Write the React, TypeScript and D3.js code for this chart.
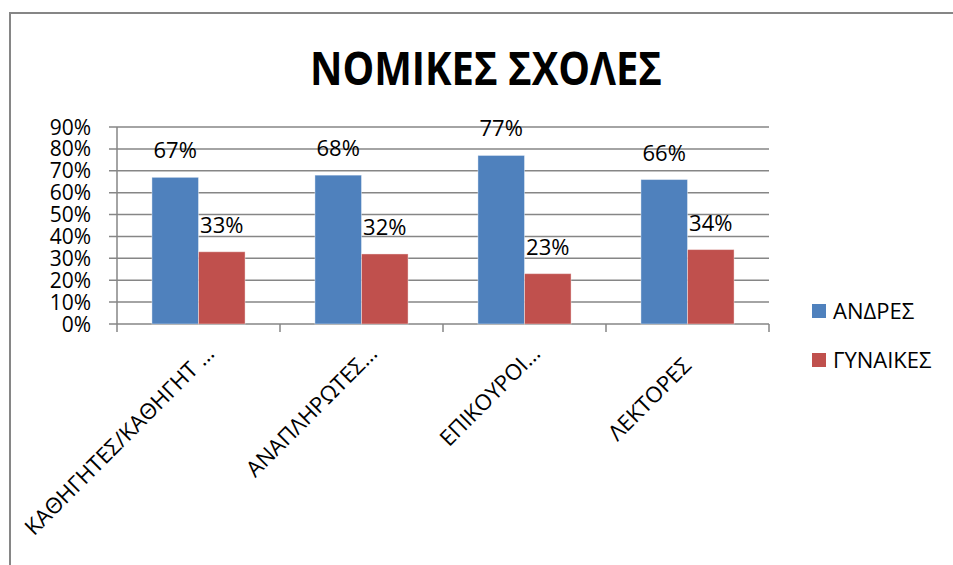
import * as d3 from 'd3'

const title = 'ΝΟΜΙΚΕΣ ΣΧΟΛΕΣ'
const categories = ['ΚΑΘΗΓΗΤΕΣ/ΚΑΘΗΓΗΤ …', 'ΑΝΑΠΛΗΡΩΤΕΣ…', 'ΕΠΙΚΟΥΡΟΙ…', 'ΛΕΚΤΟΡΕΣ']
const seriesNames = ['ΑΝΔΡΕΣ', 'ΓΥΝΑΙΚΕΣ']
const men = [0.67, 0.68, 0.77, 0.66]
const women = [0.33, 0.32, 0.23, 0.34]
const yTicks = [0, 0.1, 0.2, 0.3, 0.4, 0.5, 0.6, 0.7, 0.8, 0.9]

const colors = ['#4F81BD', '#C0504D']
const grid = '#868686'
const font = '"Open Sans", "Liberation Sans", sans-serif'

export default function App() {
  const width = 953
  const height = 565
  const plot = { left: 117, right: 769, top: 127, bottom: 324 }

  const x0 = d3.scaleBand<string>().domain(categories).range([plot.left, plot.right])
  const x1 = d3.scaleBand<string>().domain(seriesNames).range([0, x0.bandwidth()]).paddingOuter(0.75)
  const y = d3.scaleLinear().domain([0, 0.9]).range([plot.bottom, plot.top])
  const pct = d3.format('.0%')
  const values = [men, women]

  return (
    <svg width={width} height={height} style={{ position: 'absolute', left: 0, top: 0 }}>
      <rect x={0} y={0} width={width} height={height} fill="#fff" />
      <rect x={10} y={13} width={1000} height={600} fill="none" stroke={grid} strokeWidth={2} />

      <text x={486} y={85} textAnchor="middle" fontFamily={font} fontWeight="bold" fontSize={46}
        textLength={352} lengthAdjust="spacingAndGlyphs">{title}</text>

      {yTicks.map(t => (
        <g key={t}>
          <line x1={plot.left - 8} x2={plot.right} y1={y(t)} y2={y(t)} stroke={grid} strokeWidth={1.5} />
          <text x={91} y={y(t)} dy="0.36em" textAnchor="end" fontFamily={font} fontSize={21}>{pct(t)}</text>
        </g>
      ))}
      <line x1={plot.left} x2={plot.left} y1={plot.top} y2={plot.bottom + 8} stroke={grid} strokeWidth={1.5} />
      {categories.map((c, i) => (
        <line key={'t' + i} x1={x0(c)! + x0.bandwidth()} x2={x0(c)! + x0.bandwidth()}
          y1={plot.bottom} y2={plot.bottom + 8} stroke={grid} strokeWidth={1.5} />
      ))}

      {seriesNames.map((s, si) => (
        <g key={s}>
          {categories.map((c, i) => {
            const bx = x0(c)! + x1(s)!
            const v = values[si][i]
            return (
              <g key={c}>
                <rect x={bx} y={y(v)} width={x1.bandwidth()} height={plot.bottom - y(v)}
                  fill={colors[si]} stroke="#fff" strokeOpacity={0.4} strokeWidth={1} />
                <text x={bx + x1.bandwidth() / 2} y={y(v) - 19} textAnchor="middle"
                  fontFamily={font} fontSize={22}>{pct(v)}</text>
              </g>
            )
          })}
        </g>
      ))}

      {categories.map((c, i) => {
        const cx = x0(c)! + x0.bandwidth() / 2
        const cut = c.endsWith('…')
        return (
          <text key={'l' + i} transform={`translate(${cx + 17},355) rotate(-45)`}
            dx={cut ? 0 : -17} textAnchor="end" fontFamily={font} fontSize={22}>{c}</text>
        )
      })}

      {seriesNames.map((s, si) => (
        <g key={'lg' + s} transform={`translate(812,${304 + si * 49})`}>
          <rect x={0} y={0} width={14} height={14} fill={colors[si]} />
          <text x={21} y={7} dy="0.36em" fontFamily={font} fontSize={22}>{s}</text>
        </g>
      ))}
    </svg>
  )
}
